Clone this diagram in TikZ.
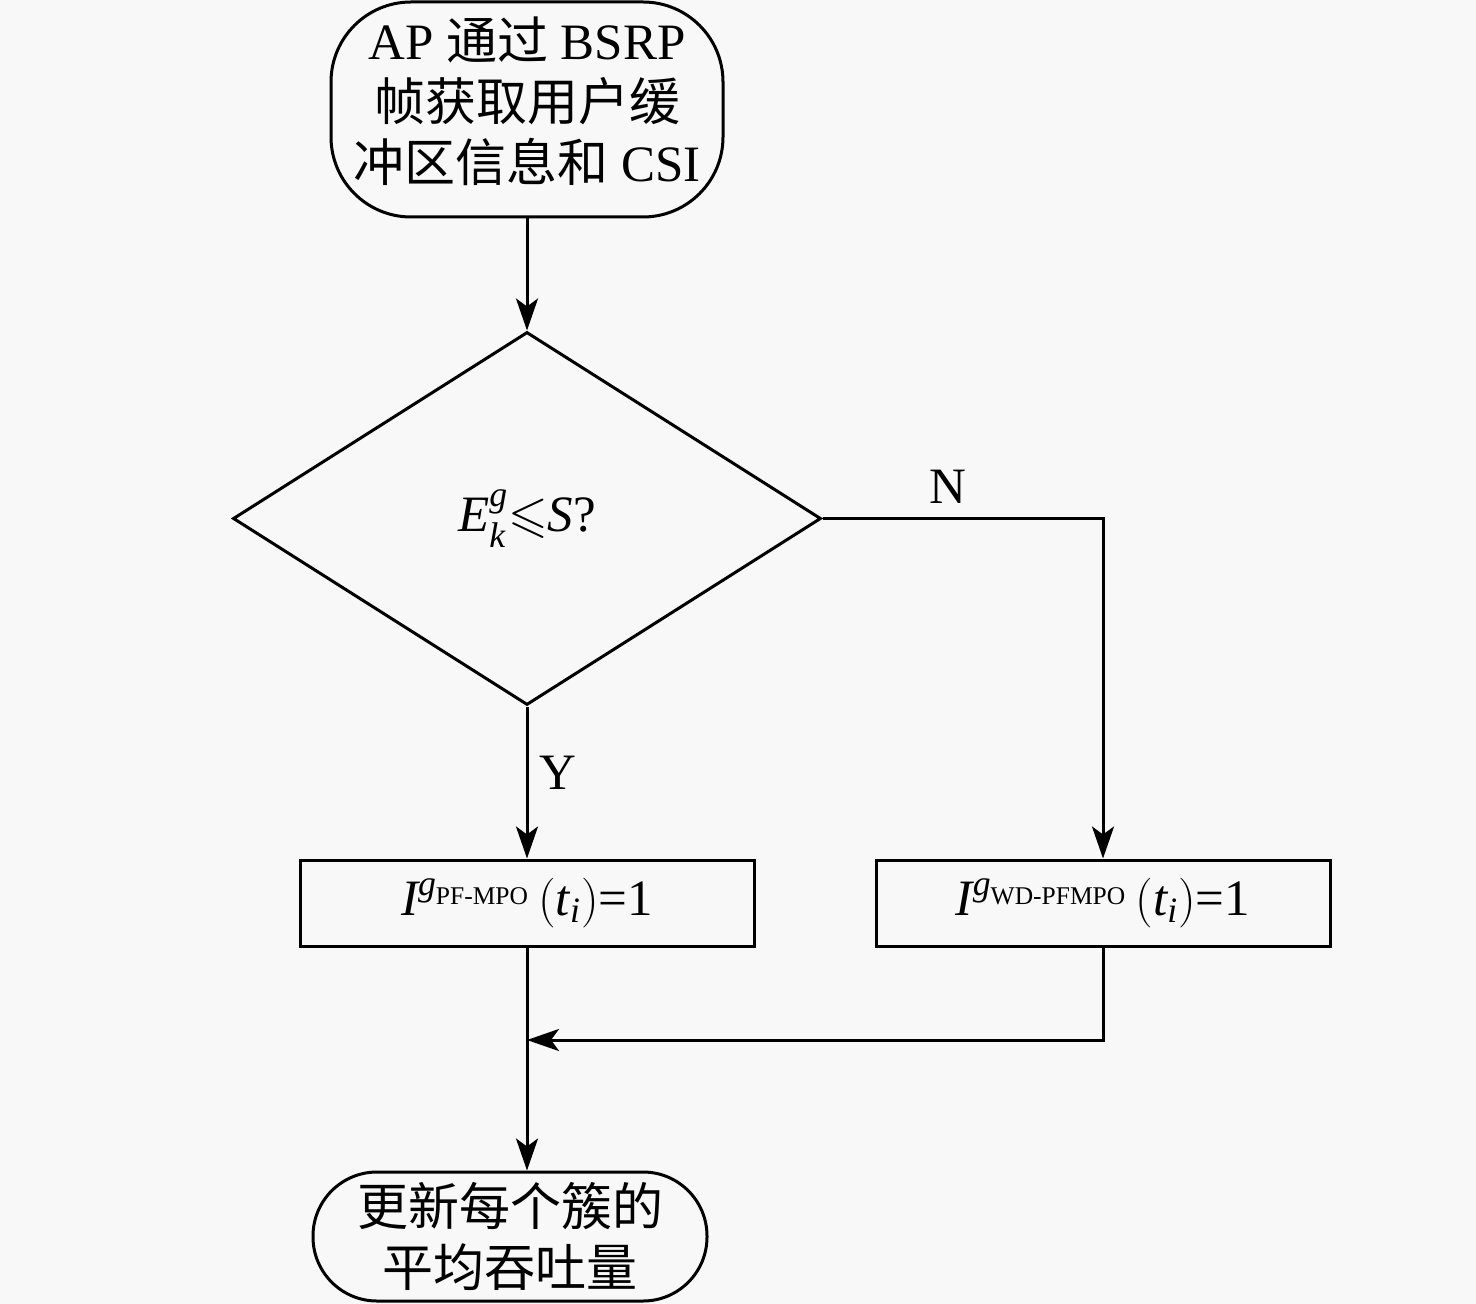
\documentclass[tikz,border=0pt]{standalone}
\usepackage{amsmath,amssymb}
\usepackage{fontspec}
\setmainfont{Liberation Serif}
\newfontfamily\cjk{Noto Sans CJK SC}
\usetikzlibrary{shapes.geometric,arrows.meta}
\definecolor{bg}{RGB}{248,248,248}
\newcommand{\zh}[1]{{\cjk #1}}
\begin{document}
\begin{tikzpicture}[x=0.5pt,y=-0.5pt,
 every node/.style={font=\fontsize{25.5}{30.5}\selectfont},
 stadium/.style={draw, line width=1.5pt, inner sep=0pt, align=center},
 procbox/.style={draw, line width=1.5pt, minimum width=227pt, minimum height=43pt, inner sep=0pt},
 decision/.style={diamond, draw, line width=1.5pt, minimum width=294pt, minimum height=186.5pt, inner sep=0pt},
 flow/.style={line width=1.5pt, -{Stealth[length=16pt,width=11pt,inset=4pt]}},
 lbl/.style={inner sep=0pt}]
\fill[bg] (0,0) rectangle (1476,1304);
\useasboundingbox (0,0) rectangle (1476,1304);
\node[stadium, rounded corners=40pt, minimum width=196pt, minimum height=107.5pt] (start) at (527,109.5)
  {AP \zh{通过} BSRP\\\zh{帧获取用户缓}\\\zh{冲区信息和} CSI\\[-20pt]};
\node[decision] (dec) at (527,518.5) {$\textit{E}^{\textit{g}}_{\textit{k}}{\leqslant}\textit{S}$?};
\node[procbox] (left) at (527,903) {$\textit{I}^{\textit{g}_{\text{PF-MPO}}}\,(\textit{t}_{\textit{i}})\text{=1}$};
\node[procbox] (right) at (1103,903) {$\textit{I}^{\textit{g}_{\text{WD-PFMPO}}}\,(\textit{t}_{\textit{i}})\text{=1}$};
\node[stadium, rounded corners=32pt, minimum width=197pt, minimum height=64.5pt] (stop) at (510,1236.5)
  {\zh{更新每个簇的}\\\zh{平均吞吐量}};
\coordinate (merge) at (527,1040);
\node[lbl] (ylab) at (558,773) {Y};
\node[lbl] (nlab) at (948,487) {N};
\draw[flow] (start.south) -- (dec.north);
\draw[flow] (dec.south) -- (left.north);
\draw[flow] (dec.east) -| (right.north);
\draw[flow] (left.south) -- (left.south |- stop.north);
\draw[flow] (right.south) |- (merge);
\end{tikzpicture}
\end{document}
